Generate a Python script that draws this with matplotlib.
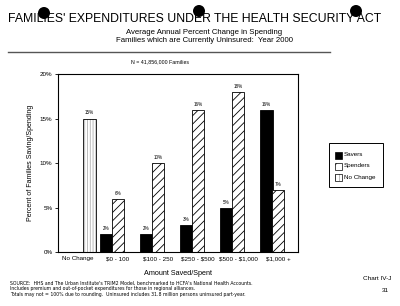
import matplotlib
matplotlib.use("Agg")
import matplotlib.pyplot as plt
from matplotlib.patches import Ellipse, Rectangle
import numpy as np

categories = ["No Change", "$0 - 100", "$100 - 250", "$250 - $500", "$500 - $1,000", "$1,000 +"]
savers = [0, 2, 2, 3, 5, 16]
spenders = [0, 6, 10, 16, 18, 7]
no_change = [15, 0, 0, 0, 0, 0]
yticks = [0, 5, 10, 15, 20]

plt.rcParams['font.family'] = ['Liberation Sans', 'DejaVu Sans']
plt.rcParams['hatch.linewidth'] = 0.6
plt.rcParams['text.parse_math'] = False

fig = plt.figure(figsize=(4.0, 3.06), dpi=100)
fig.patch.set_facecolor('white')
ax = fig.add_axes([0.145, 0.176, 0.60, 0.582])

x = np.arange(len(categories))
w = 0.31
off = 0.29

for i in range(len(categories)):
    if savers[i] > 0:
        ax.bar(x[i] - off, savers[i], w, color='black', edgecolor='black', linewidth=0.6)
        ax.text(x[i] - off, savers[i] + 0.35, f"{savers[i]}%", ha='center', va='bottom', fontsize=3.3)
    if spenders[i] > 0:
        ax.bar(x[i], spenders[i], w, color='white', edgecolor='black', hatch='////', linewidth=0.6)
        ax.text(x[i], spenders[i] + 0.35, f"{spenders[i]}%", ha='center', va='bottom', fontsize=3.3)
    if no_change[i] > 0:
        ax.bar(x[i] + off, no_change[i], w, color='white', edgecolor='#b0b0b0', hatch='||||||', linewidth=0)
        ax.bar(x[i] + off, no_change[i], w, color='none', edgecolor='black', linewidth=0.6)
        ax.text(x[i] + off, no_change[i] + 0.35, f"{no_change[i]}%", ha='center', va='bottom', fontsize=3.3)

ax.set_xlim(-0.5, 5.5)
ax.set_ylim(0, 20)
ax.set_yticks(yticks)
ax.set_yticklabels([f"{t}%" for t in yticks], fontsize=4.5)
ax.set_xticks(x)
ax.set_xticklabels(categories, fontsize=4.5)
ax.tick_params(axis='x', length=0, pad=3)
ax.tick_params(axis='y', length=2, width=0.6, pad=2)
for s in ax.spines.values():
    s.set_linewidth(0.8)
ax.set_ylabel("Percent of Families Saving/Spending", fontsize=5, labelpad=4)
ax.set_xlabel("Amount Saved/Spent", fontsize=5.2, labelpad=6)

# legend
lx0, ly0, lw, lh = 329/400, 1 - 187/306, 54/400, 44/306
fig.patches.append(Rectangle((lx0, ly0), lw, lh, transform=fig.transFigure, facecolor='white',
                             edgecolor='black', linewidth=0.7))
names = ["Savers", "Spenders", "No Change"]
ys = [1 - 155/306, 1 - 166/306, 1 - 177/306]
for n, yy in zip(names, ys):
    bx, bw, bh = 335/400, 7/400, 7/306
    if n == "Savers":
        r = Rectangle((bx, yy - bh/2), bw, bh, transform=fig.transFigure, facecolor='black', edgecolor='black', lw=0.5)
        fig.patches.append(r)
    elif n == "Spenders":
        r = Rectangle((bx, yy - bh/2), bw, bh, transform=fig.transFigure, facecolor='white', edgecolor='black', lw=0.5, hatch='//')
        fig.patches.append(r)
    else:
        r = Rectangle((bx, yy - bh/2), bw, bh, transform=fig.transFigure, facecolor='white', edgecolor='#b0b0b0', lw=0, hatch='||||')
        fig.patches.append(r)
        r2 = Rectangle((bx, yy - bh/2), bw, bh, transform=fig.transFigure, facecolor='none', edgecolor='black', lw=0.5)
        fig.patches.append(r2)
    fig.text(bx + bw + 2/400, yy, n, fontsize=4.5, va='center', ha='left')

# titles
fig.text(195/400, 1 - 19/306, "FAMILIES' EXPENDITURES UNDER THE HEALTH SECURITY ACT", fontsize=8.8,
         ha='center', va='center')
fig.text(0.51, 1 - 33/306, "Average Annual Percent Change in Spending", fontsize=5.6, ha='center', va='center')
fig.text(0.51, 1 - 41/306, "Families which are Currently Uninsured:  Year 2000", fontsize=5.6, ha='center', va='center')
fig.add_artist(plt.Line2D([8/400, 330/400], [1 - 52/306, 1 - 52/306], color='#555555', lw=1.0,
                          transform=fig.transFigure))
fig.text(160/400, 1 - 62/306, "N = 41,856,000 Families", fontsize=3.8, ha='center', va='center')

# footer
foot = ["SOURCE:  HHS and The Urban Institute's TRIM2 Model, benchmarked to HCFA's National Health Accounts.",
        "Includes premium and out-of-pocket expenditures for those in regional alliances.",
        "Totals may not = 100% due to rounding.  Uninsured includes 31.8 million persons uninsured part-year."]
for k, t in enumerate(foot):
    fig.text(10/400, 1 - (283.5 + 5.3*k)/306, t, fontsize=3.3, ha='left', va='center', family='DejaVu Sans')
fig.text(391/400, 1 - 279/306, "Chart IV-J", fontsize=4.6, ha='right', va='center')
fig.text(389/400, 1 - 290/306, "31", fontsize=4.6, ha='right', va='center')

# hole punches
for cx, cy in [(44, 13), (199, 11), (356, 11)]:
    fig.patches.append(Ellipse((cx/400, 1 - cy/306), 12/400, 12/306, transform=fig.transFigure,
                               facecolor='black', edgecolor='none'))

fig.savefig("out.png", dpi=100, facecolor='white')
